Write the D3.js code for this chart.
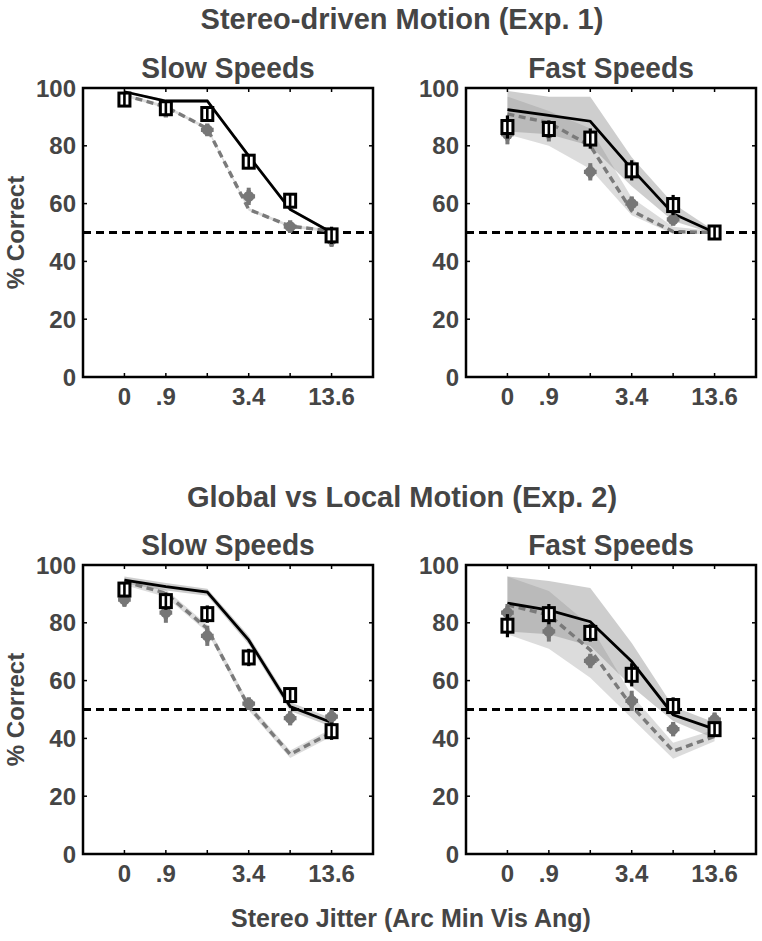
<!DOCTYPE html>
<html>
<head>
<meta charset="utf-8">
<script src="https://cdn.jsdelivr.net/npm/d3@7"></script>
<style>
  body { margin: 0; background: #fff; }
  svg { display: block; }
  text { font-family: "Liberation Sans", Arial, Helvetica, sans-serif; font-weight: bold; fill: #454545; }
</style>
</head>
<body>
<svg id="chart" width="762" height="941"></svg>
<script>
// ---- data ----
const xPositions = [1, 2, 3, 4, 5, 6];
const xTickPositions = [1, 2, 4, 6];
const xTickLabels = ["0", ".9", "3.4", "13.6"];
const yTicks = [0, 20, 40, 60, 80, 100];
const chance = 50;

const rowTitles = ["Stereo-driven Motion (Exp. 1)", "Global vs Local Motion (Exp. 2)"];
const colTitles = ["Slow Speeds", "Fast Speeds"];
const yLabel = "% Correct";
const xLabel = "Stereo Jitter (Arc Min Vis Ang)";

// Exp 1, slow
const e1SlowBlackData = [96, 93, 91, 74.5, 61, 49];
const e1SlowBlackErr  = [2, 2, 2.5, 2.5, 2, 3];
const e1SlowGrayData  = [96, 92, 85.5, 62.5, 52, 47.5];
const e1SlowGrayErr   = [1.5, 2, 2, 3, 1.5, 2.5];
const e1SlowBlackModel = [98.7, 95.5, 95.5, 76.5, 58, 50];
const e1SlowGrayModel  = [97.5, 93.5, 86, 58, 52.2, 50.5];
const e1SlowBlackBandHi = [99, 96, 96, 77, 58.5, 50.5];
const e1SlowBlackBandLo = [98.4, 95, 95, 76, 57.5, 49.5];
const e1SlowGrayBandHi = [98, 94, 86.5, 58.5, 52.7, 51];
const e1SlowGrayBandLo = [97, 93, 85.5, 57.5, 51.7, 50];

// Exp 1, fast
const e1FastBlackData = [86.5, 85.8, 82.5, 71.5, 59.5, 50];
const e1FastBlackErr  = [4, 3, 3.5, 3.5, 3.5, 2];
const e1FastGrayData  = [84, 84.5, 71, 60, 54.5, 50];
const e1FastGrayErr   = [3.5, 3, 3, 2.5, 2, 2];
const e1FastBlackModel = [92.5, 90.5, 88.5, 72, 56.5, 50];
const e1FastGrayModel  = [91, 88, 80, 57.5, 50.3, 50];
const e1FastBlackBandHi = [99, 97, 97, 76, 60, 50.5];
const e1FastBlackBandLo = [85, 84, 80, 66, 54, 49.5];
const e1FastGrayBandHi = [97, 92, 86, 62, 52, 50.5];
const e1FastGrayBandLo = [84, 80, 72, 56, 49.5, 49.5];

// Exp 2, slow
const e2SlowBlackData = [91.5, 87.5, 83, 68, 55, 42.5];
const e2SlowBlackErr  = [2.5, 3, 3, 3, 2.5, 3];
const e2SlowGrayData  = [88, 83.5, 75.5, 52, 47, 47.5];
const e2SlowGrayErr   = [2.5, 3.5, 3.5, 2, 2.5, 2.5];
const e2SlowBlackModel = [94.8, 92.5, 90.6, 74, 51, 45.5];
const e2SlowGrayModel  = [94.3, 90.2, 78, 51, 34.5, 42];
const e2SlowBlackBandHi = [96, 93.8, 91.8, 75.5, 52.5, 47];
const e2SlowBlackBandLo = [93.6, 91.2, 89.4, 72.5, 49.5, 44];
const e2SlowGrayBandHi = [95.5, 91.5, 79.3, 52.3, 35.8, 43.3];
const e2SlowGrayBandLo = [93.1, 88.9, 76.7, 49.7, 33.2, 40.7];

// Exp 2, fast
const e2FastBlackData = [79, 83, 76.5, 62, 51.2, 43.2];
const e2FastBlackErr  = [4, 3.5, 3, 4, 3, 2];
const e2FastGrayData  = [83.5, 77, 66.8, 53, 43.2, 46.5];
const e2FastGrayErr   = [3, 3.5, 2.5, 3.5, 2.5, 2.5];
const e2FastBlackModel = [86.8, 84.4, 80.4, 66.6, 48.2, 43.2];
const e2FastGrayModel  = [86.2, 82.7, 70.6, 51.2, 35.6, 40.7];
const e2FastBlackBandHi = [96, 94.5, 92, 73, 51, 45.5];
const e2FastBlackBandLo = [77, 76, 72, 58, 46, 40];
const e2FastGrayBandHi = [96, 91, 79, 55, 38.5, 43];
const e2FastGrayBandLo = [76, 71, 61, 47, 33, 39];

const panels = [
  {row: 0, col: 0, bd: e1SlowBlackData, be: e1SlowBlackErr, gd: e1SlowGrayData, ge: e1SlowGrayErr,
   bm: e1SlowBlackModel, gm: e1SlowGrayModel, bh: e1SlowBlackBandHi, bl: e1SlowBlackBandLo, gh: e1SlowGrayBandHi, gl: e1SlowGrayBandLo},
  {row: 0, col: 1, bd: e1FastBlackData, be: e1FastBlackErr, gd: e1FastGrayData, ge: e1FastGrayErr,
   bm: e1FastBlackModel, gm: e1FastGrayModel, bh: e1FastBlackBandHi, bl: e1FastBlackBandLo, gh: e1FastGrayBandHi, gl: e1FastGrayBandLo},
  {row: 1, col: 0, bd: e2SlowBlackData, be: e2SlowBlackErr, gd: e2SlowGrayData, ge: e2SlowGrayErr,
   bm: e2SlowBlackModel, gm: e2SlowGrayModel, bh: e2SlowBlackBandHi, bl: e2SlowBlackBandLo, gh: e2SlowGrayBandHi, gl: e2SlowGrayBandLo},
  {row: 1, col: 1, bd: e2FastBlackData, be: e2FastBlackErr, gd: e2FastGrayData, ge: e2FastGrayErr,
   bm: e2FastBlackModel, gm: e2FastGrayModel, bh: e2FastBlackBandHi, bl: e2FastBlackBandLo, gh: e2FastGrayBandHi, gl: e2FastGrayBandLo}
];

// ---- layout ----
const svg = d3.select("#chart");
const colX = [83, 466];
const rowY = [88, 565];
const W = 290, H = 289;

// row titles
const rowTitleY = [29, 507];
rowTitles.forEach((t, i) => {
  svg.append("text").attr("x", 402).attr("y", rowTitleY[i]).attr("text-anchor", "middle")
    .attr("font-size", 29).text(t);
});

panels.forEach(p => {
  const x0 = colX[p.col], y0 = rowY[p.row];
  const x = d3.scaleLinear().domain([0, 7]).range([x0, x0 + W]);
  const y = d3.scaleLinear().domain([0, 100]).range([y0 + H, y0]);
  const g = svg.append("g");

  // panel title
  const tcx = x0 + W / 2;
  g.append("text").attr("x", tcx).attr("y", y0 - 10).attr("text-anchor", "middle")
    .attr("font-size", 29).attr("transform", `translate(${tcx},0) scale(0.97,1) translate(${-tcx},0)`)
    .text(colTitles[p.col]);

  // bands
  const area = (hi, lo) => d3.area().x((d, i) => x(xPositions[i])).y0((d, i) => y(lo[i])).y1((d, i) => y(hi[i]));
  g.append("path").datum(p.gh).attr("d", area(p.gh, p.gl)).attr("fill", "#9a9a9a").attr("fill-opacity", 0.35);
  g.append("path").datum(p.bh).attr("d", area(p.bh, p.bl)).attr("fill", "#8a8a8a").attr("fill-opacity", 0.42);

  // chance line
  g.append("line").attr("x1", x0).attr("x2", x0 + W).attr("y1", y(chance)).attr("y2", y(chance))
    .attr("stroke", "#000").attr("stroke-width", 3).attr("stroke-dasharray", "8,5");

  // model lines
  const line = d3.line().x((d, i) => x(xPositions[i])).y(d => y(d));
  g.append("path").datum(p.gm).attr("d", line).attr("fill", "none").attr("stroke", "#7a7a7a")
    .attr("stroke-width", 3.4).attr("stroke-dasharray", "7,4.5");
  g.append("path").datum(p.bm).attr("d", line).attr("fill", "none").attr("stroke", "#000")
    .attr("stroke-width", 2.8);

  // gray data points
  p.gd.forEach((v, i) => {
    const cx = x(xPositions[i]);
    g.append("line").attr("x1", cx).attr("x2", cx).attr("y1", y(v - p.ge[i])).attr("y2", y(v + p.ge[i]))
      .attr("stroke", "#777").attr("stroke-width", 4);
    g.append("path").attr("d", d3.symbol(d3.symbolCross, 90)()).attr("transform", `translate(${cx},${y(v)})`)
      .attr("fill", "#777");
    g.append("circle").attr("cx", cx).attr("cy", y(v)).attr("r", 5.5).attr("fill", "#777");
  });

  // black data points
  p.bd.forEach((v, i) => {
    const cx = x(xPositions[i]);
    g.append("line").attr("x1", cx).attr("x2", cx).attr("y1", y(v - p.be[i])).attr("y2", y(v + p.be[i]))
      .attr("stroke", "#000").attr("stroke-width", 3.2);
    g.append("rect").attr("x", cx - 5.5).attr("y", y(v) - 6.5).attr("width", 11).attr("height", 13)
      .attr("fill", "#fff").attr("stroke", "#000").attr("stroke-width", 3);
    g.append("line").attr("x1", cx).attr("x2", cx).attr("y1", y(v) - 6.5).attr("y2", y(v) + 6.5)
      .attr("stroke", "#000").attr("stroke-width", 2.6);
  });

  // frame
  g.append("rect").attr("x", x0).attr("y", y0).attr("width", W).attr("height", H)
    .attr("fill", "none").attr("stroke", "#000").attr("stroke-width", 2.5);

  // inward ticks on all sides
  xPositions.forEach(t => {
    g.append("line").attr("x1", x(t)).attr("x2", x(t)).attr("y1", y0 + H).attr("y2", y0 + H - 4)
      .attr("stroke", "#000").attr("stroke-width", 1.5);
    g.append("line").attr("x1", x(t)).attr("x2", x(t)).attr("y1", y0).attr("y2", y0 + 4)
      .attr("stroke", "#000").attr("stroke-width", 1.5);
  });
  yTicks.forEach(t => {
    g.append("line").attr("x1", x0).attr("x2", x0 + 4).attr("y1", y(t)).attr("y2", y(t))
      .attr("stroke", "#000").attr("stroke-width", 1.5);
    g.append("line").attr("x1", x0 + W).attr("x2", x0 + W - 4).attr("y1", y(t)).attr("y2", y(t))
      .attr("stroke", "#000").attr("stroke-width", 1.5);
  });

  // tick labels
  xTickPositions.forEach((t, i) => {
    g.append("text").attr("x", x(t)).attr("y", y0 + H + 28).attr("text-anchor", "middle")
      .attr("font-size", 24).text(xTickLabels[i]);
  });
  yTicks.forEach(t => {
    g.append("text").attr("x", x0 - 7).attr("y", y(t) + 8.5).attr("text-anchor", "end")
      .attr("font-size", 24).text(t);
  });

  if (p.col === 0) {
    g.append("text").attr("transform", `translate(24,${y0 + H / 2}) rotate(-90)`)
      .attr("text-anchor", "middle").attr("font-size", 24).text(yLabel);
  }
});

svg.append("text").attr("x", 411).attr("y", 927).attr("text-anchor", "middle")
  .attr("font-size", 25).text(xLabel);
</script>
</body>
</html>
